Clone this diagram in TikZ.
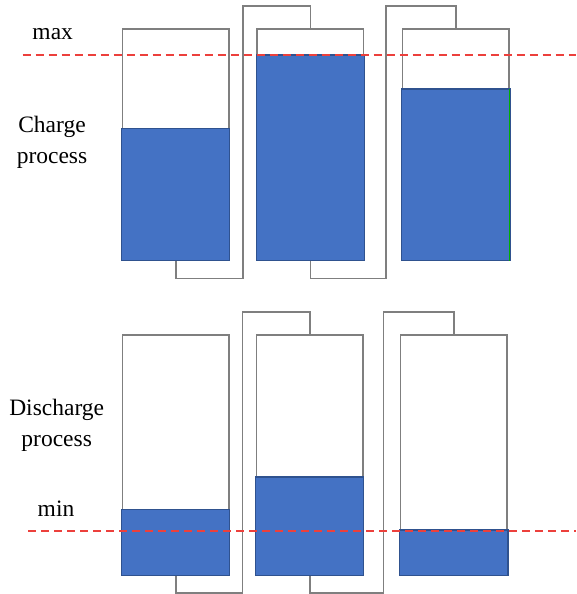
\documentclass[tikz,border=0pt]{standalone}
\usepackage{fontspec}
\setmainfont{Liberation Serif}
\definecolor{tankblue}{HTML}{4472C4}
\definecolor{tankedge}{HTML}{2F528F}
\definecolor{pipegray}{HTML}{7F7F7F}
\definecolor{limitred}{RGB}{236,64,60}
\tikzset{
  tank/.style={draw=pipegray, line width=1.6pt, minimum width=106.5pt, inner sep=0pt},
  pipe/.style={draw=pipegray, line width=1.6pt},
  liquid/.style={fill=tankblue, draw=tankedge, line width=1.3pt},
  limit/.style={draw=limitred, line width=1.8pt, dash pattern=on 8pt off 5pt},
  sidetext/.style={font=\fontsize{23.5}{31.5}\selectfont, align=center, inner sep=0pt}
}
% filled part of a tank, up to the given height
\newcommand\tanklevel[2]{\draw[liquid] (#1.south west) rectangle (#1.east |- 0,#2);}
\begin{document}
\begin{tikzpicture}[x=1pt, y=-1pt]
    \useasboundingbox (0,0) rectangle (576,594);

    % charge process
    \node[tank, minimum height=230.7pt] (c1) at (175.7,144.65) {};
    \node[tank, minimum height=230.7pt] (c2) at (310.3,144.65) {};
    \node[tank, minimum height=230.7pt] (c3) at (455.8,144.65) {};
    \tanklevel{c1}{128.3}
    \tanklevel{c2}{55}
    \tanklevel{c3}{89}
    \draw[green!70!black, line width=1pt] (c3.east |- 0,89) -- (c3.south east);

    \coordinate (cu1) at (242.7,278.3);
    \coordinate (co1) at (242.7,6);
    \coordinate (cu2) at (385.7,278.3);
    \coordinate (co2) at (385.7,6);
    \draw[pipe] (c1.south) |- (cu1) -- (co1) -| (c2.north);
    \draw[pipe] (c2.south) |- (cu2) -- (co2) -| (c3.north);

    \node[sidetext, anchor=base] (maxlbl) at (52.7,40) {max};
    \node[sidetext] (charge) at (52,142.5) {Charge\\process};
    \draw[limit] (22.7,55) -- (576,55);

    % discharge process
    \node[tank, minimum height=240pt] (d1) at (175.7,455) {};
    \node[tank, minimum height=240pt] (d2) at (309.7,455) {};
    \node[tank, minimum height=240pt] (d3) at (453.8,455) {};
    \tanklevel{d1}{509.3}
    \tanklevel{d2}{477}
    \tanklevel{d3}{530}

    \coordinate (du1) at (242.3,592.7);
    \coordinate (do1) at (242.3,311.7);
    \coordinate (du2) at (383.3,592.7);
    \coordinate (do2) at (383.3,311.7);
    \draw[pipe] (d1.south) |- (du1) -- (do1) -| (d2.north);
    \draw[pipe] (d2.south) |- (du2) -- (do2) -| (d3.north);

    \node[sidetext] (discharge) at (56.7,425.2) {Discharge\\process};
    \node[sidetext, anchor=base] (minlbl) at (56,516) {min};
    \draw[limit] (28.3,530.7) -- (576,530.7);
\end{tikzpicture}
\end{document}
